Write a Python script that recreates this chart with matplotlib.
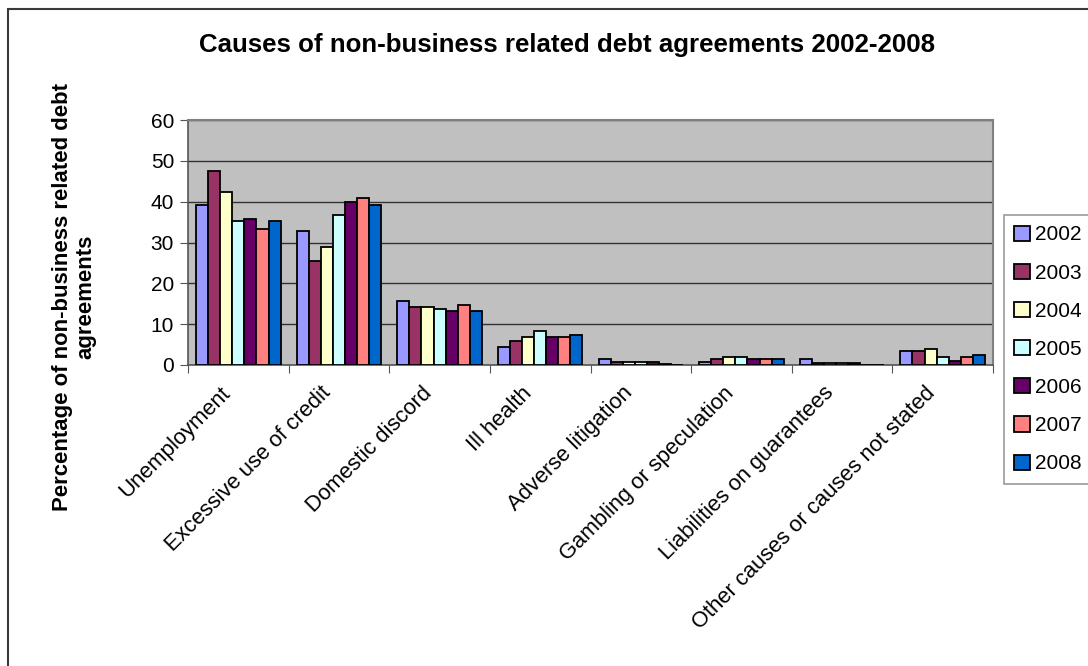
import numpy as np
import matplotlib
matplotlib.use("Agg")
import matplotlib.pyplot as plt
import matplotlib.transforms as mtrans
from matplotlib.patches import Rectangle, Patch

plt.rcParams['font.family'] = ['Liberation Sans', 'DejaVu Sans']

categories = ["Unemployment", "Excessive use of credit", "Domestic discord",
              "Ill health", "Adverse litigation", "Gambling or speculation",
              "Liabilities on guarantees", "Other causes or causes not stated"]
years = ["2002", "2003", "2004", "2005", "2006", "2007", "2008"]

# percentages per year, one value per category
v2002 = [39.3, 32.8, 15.6, 4.4, 1.4, 0.7, 1.4, 3.4]
v2003 = [47.6, 25.5, 14.2, 5.9, 0.7, 1.4, 0.4, 3.4]
v2004 = [42.3, 28.9, 14.2, 6.9, 0.7, 1.9, 0.4, 3.8]
v2005 = [35.3, 36.8, 13.8, 8.4, 0.7, 1.9, 0.4, 1.9]
v2006 = [35.8, 39.8, 13.3, 6.9, 0.8, 1.4, 0.4, 0.9]
v2007 = [33.3, 40.8, 14.6, 6.9, 0.3, 1.4, 0.0, 1.9]
v2008 = [35.3, 39.3, 13.3, 7.3, 0.0, 1.4, 0.0, 2.4]
series = [v2002, v2003, v2004, v2005, v2006, v2007, v2008]

colors = ["#9999FF", "#993366", "#FFFFCC", "#CCFFFF", "#660066", "#FF8080", "#0066CC"]

W, H = 1088, 666
fig = plt.figure(figsize=(W / 100, H / 100), dpi=100)

# outer chart frame (cut at right and bottom like the source)
fig.patches.append(Rectangle((8 / W, -0.05), 1.2, 1 - 9 / H + 0.05,
                             transform=fig.transFigure, fill=False,
                             edgecolor="#3a3a3a", linewidth=1.5))

ax = fig.add_axes([188 / W, 1 - 365 / H, 805 / W, 245 / H])
ax.set_facecolor("#C0C0C0")

n = len(series)
bw = 0.84 / n
x = np.arange(len(categories))
for i, (vals, c) in enumerate(zip(series, colors)):
    ax.bar(x - 0.42 + bw * (i + 0.5), vals, width=bw, color=c,
           edgecolor="black", linewidth=1.3, zorder=3)

ax.set_xlim(-0.5, len(categories) - 0.5)
ax.set_ylim(0, 60)
ax.set_yticks(np.arange(0, 61, 10))
ax.yaxis.grid(True, color="#333333", linewidth=1.0, zorder=1)
ax.set_axisbelow(True)

for s in ["top", "right"]:
    ax.spines[s].set_color("#808080")
    ax.spines[s].set_linewidth(1.5)
for s in ["left", "bottom"]:
    ax.spines[s].set_color("#555555")
    ax.spines[s].set_linewidth(1.2)

ax.set_xticks(np.arange(len(categories) + 1) - 0.5, minor=False)
ax.set_xticklabels([])
ax.set_xticks(x, minor=True)
ax.set_xticklabels(categories, minor=True, rotation=45, ha="right",
                   va="center", rotation_mode="anchor", fontsize=15.8)
ax.tick_params(axis="x", which="major", direction="out", length=6, color="#555555")
ax.tick_params(axis="x", which="minor", length=0, pad=18)
ax.tick_params(axis="y", direction="out", length=6, color="#555555",
               labelsize=15, pad=4)

# nudge the category labels left so they end left of the group centre
shift = mtrans.ScaledTranslation(-11 / 100, 0, fig.dpi_scale_trans)
for lab in ax.get_xticklabels(minor=True):
    lab.set_transform(lab.get_transform() + shift)

fig.text(567 / W, 1 - 45 / H,
         "Causes of non-business related debt agreements 2002-2008",
         ha="center", va="center", fontsize=18.6, fontweight="bold")
fig.text(74 / W, 1 - 297 / H,
         "Percentage of non-business related debt\nagreements",
         ha="center", va="center", rotation=90, fontsize=15.9,
         fontweight="bold", linespacing=1.15)

handles = [Patch(facecolor=c, edgecolor="black", linewidth=1.3) for c in colors]
leg = fig.legend(handles, years, loc="upper left",
                 bbox_to_anchor=(1004 / W, 1 - 215 / H), fontsize=15,
                 frameon=True, fancybox=False, edgecolor="#808080",
                 handlelength=0.75, handleheight=0.75, handletextpad=0.25,
                 labelspacing=0.92, borderpad=0.5, borderaxespad=0)
leg.get_frame().set_linewidth(1.2)

fig.savefig("out.png", dpi=100, facecolor="white")
